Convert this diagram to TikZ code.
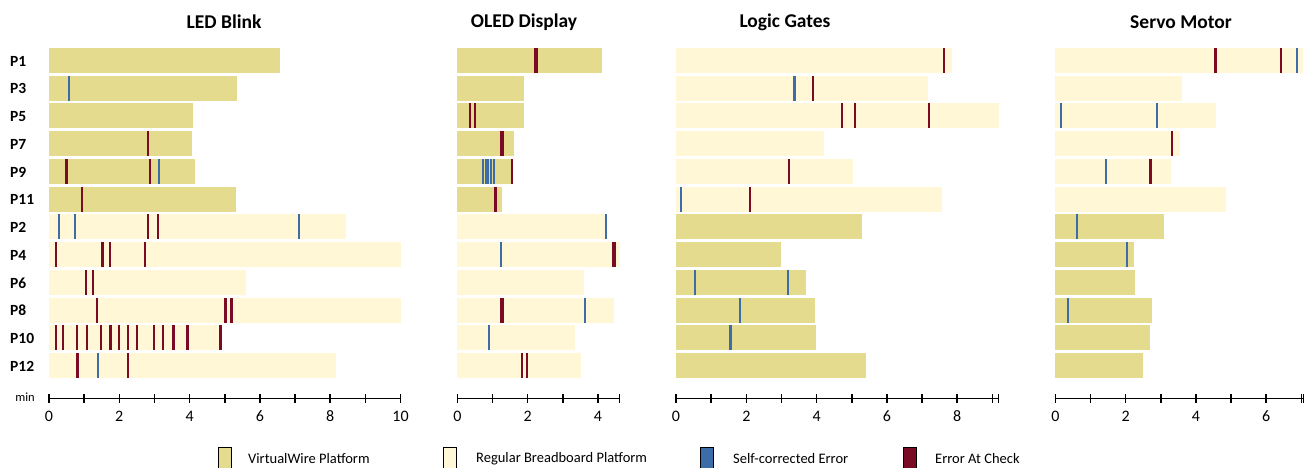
\documentclass[tikz,border=0pt]{standalone}
\usepackage{fontspec}
\setmainfont{Carlito}
\definecolor{vw}{HTML}{E4DB8E}
\definecolor{rb}{HTML}{FFF7D5}
\definecolor{sc}{HTML}{3C6DA8}
\definecolor{ec}{HTML}{7B0A24}
\newcommand{\rowbar}[4]{\fill[#4] (#1,{48+27.73*#2}) rectangle ({#1+35.15*#3},{73+27.73*#2});}
\newcommand{\rowmark}[5]{\fill[#4] ({#1+35.15*#3-#5/2},{48+27.73*#2}) rectangle ({#1+35.15*#3+#5/2},{73+27.73*#2});}
\newcommand{\paneaxis}[3]{%
  \draw[axisline] (#1,398.5) -- ({#1+35.15*#3},398.5);
  \foreach \k in {0,...,#2} {\draw[axisline] ({#1+35.15*\k},394) -- ++(0,9);}
  \draw[axisline] ({#1+35.15*#3},394) -- ++(0,9);}
\begin{document}
\begin{tikzpicture}[x=1pt,y=-1pt,
  title/.style={font=\fontsize{19.5}{22}\selectfont\bfseries, inner sep=0pt},
  plabel/.style={font=\fontsize{15.5}{18}\selectfont\bfseries, anchor=west, inner sep=0pt},
  ticklabel/.style={font=\fontsize{16}{18}\selectfont, inner sep=0pt},
  legtext/.style={font=\fontsize{14.5}{17}\selectfont, anchor=west, inner sep=0pt},
  legbox/.style={draw=black, line width=0.9pt, minimum width=13pt, minimum height=21pt, inner sep=0pt, anchor=north west},
  axisline/.style={line width=1.6pt, black}]
\useasboundingbox (0,0) rectangle (1307,467);
% titles
\node[title] (t1) at (224,22) {LED Blink};
\node[title] (t2) at (524,22) {OLED Display};
\node[title] (t3) at (785,22) {Logic Gates};
\node[title] (t4) at (1181,22) {Servo Motor};
% row labels
\foreach \lab [count=\i from 0] in {P1,P3,P5,P7,P9,P11,P2,P4,P6,P8,P10,P12}
  {\node[plabel] (row\i) at (10,{61+27.73*\i}) {\lab};}
% ---------- LED Blink ----------
\foreach \r/\e/\c in {0/6.56/vw,1/5.35/vw,2/4.11/vw,3/4.07/vw,4/4.16/vw,5/5.32/vw,
  6/8.45/rb,7/10.02/rb,8/5.60/rb,9/10.02/rb,10/4.92/rb,11/8.17/rb}
  {\rowbar{49}{\r}{\e}{\c}}
\foreach \r/\t/\c in {1/0.56/sc,3/2.82/ec,4/0.50/ec,4/2.88/ec,4/3.12/sc,5/0.95/ec,
  6/0.29/sc,6/0.74/sc,6/2.82/ec,6/3.10/ec,6/7.12/sc,
  7/0.20/ec,7/1.52/ec,7/1.73/ec,7/2.72/ec,8/1.05/ec,8/1.26/ec,
  9/1.36/ec,9/5.02/ec,9/5.19/ec,
  10/0.20/ec,10/0.39/ec,10/0.79/ec,10/1.07/ec,10/1.47/ec,10/1.75/ec,10/2.00/ec,
  10/2.25/ec,10/2.50/ec,10/2.98/ec,10/3.24/ec,10/3.54/ec,10/3.94/ec,10/4.88/ec,
  11/0.81/ec,11/1.39/sc,11/2.24/ec}
  {\rowmark{49}{\r}{\t}{\c}{2.2}}
\paneaxis{49}{10}{10}
\foreach \v in {0,2,4,6,8,10} {\node[ticklabel] (a1l\v) at ({49+35.15*\v},416) {\v};}
\node[font=\fontsize{12.5}{14}\selectfont, inner sep=0pt] (minlab) at (25,397) {min};
% ---------- OLED Display ----------
\foreach \r/\e/\c in {0/4.11/vw,1/1.91/vw,2/1.91/vw,3/1.62/vw,4/1.58/vw,5/1.26/vw,
  6/4.26/rb,7/4.62/rb,8/3.60/rb,9/4.45/rb,10/3.34/rb,11/3.52/rb}
  {\rowbar{457.3}{\r}{\e}{\c}}
\foreach \r/\t/\c/\w in {0/2.23/ec/4.2,2/0.37/ec/2.2,2/0.50/ec/2.2,3/1.28/ec/4,
  4/0.74/sc/2,4/0.81/sc/2,4/0.88/sc/2,4/0.95/sc/2,4/1.03/sc/2,4/1.55/ec/2.2,
  5/1.08/ec/3,6/4.23/sc/2.2,7/1.24/sc/2.2,7/4.46/ec/4.5,9/1.26/ec/4,9/3.64/sc/2.2,
  10/0.91/sc/2.2,11/1.83/ec/2.2,11/1.99/ec/2.2}
  {\rowmark{457.3}{\r}{\t}{\c}{\w}}
\paneaxis{457.3}{4}{4.61}
\foreach \v in {0,2,4} {\node[ticklabel] (a2l\v) at ({457.3+35.15*\v},416) {\v};}
% ---------- Logic Gates ----------
\foreach \r/\e/\c in {0/7.85/rb,1/7.18/rb,2/9.18/rb,3/4.22/rb,4/5.03/rb,5/7.58/rb,
  6/5.30/vw,7/2.98/vw,8/3.69/vw,9/3.95/vw,10/3.98/vw,11/5.40/vw}
  {\rowbar{676}{\r}{\e}{\c}}
\foreach \r/\t/\c in {0/7.62/ec,1/3.37/sc,1/3.90/ec,2/4.73/ec,2/5.09/ec,2/7.20/ec,
  4/3.21/ec,5/0.15/sc,5/2.10/ec,8/0.55/sc,8/3.18/sc,9/1.82/sc,10/1.55/sc}
  {\rowmark{676}{\r}{\t}{\c}{2.2}}
\paneaxis{676}{9}{9.17}
\foreach \v in {0,2,4,6,8} {\node[ticklabel] (a3l\v) at ({676+35.15*\v},416) {\v};}
% ---------- Servo Motor ----------
\foreach \r/\e/\c in {0/7.06/rb,1/3.60/rb,2/4.56/rb,3/3.56/rb,4/3.28/rb,5/4.85/rb,
  6/3.09/vw,7/2.23/vw,8/2.27/vw,9/2.74/vw,10/2.68/vw,11/2.49/vw}
  {\rowbar{1055.3}{\r}{\e}{\c}}
\foreach \r/\t/\c in {0/4.56/ec,0/6.41/ec,0/6.88/sc,2/0.16/sc,2/2.90/sc,3/3.31/ec,
  4/1.45/sc,4/2.71/ec,6/0.61/sc,7/2.03/sc,9/0.36/sc}
  {\rowmark{1055.3}{\r}{\t}{\c}{2.2}}
\paneaxis{1055.3}{7}{7.06}
\foreach \v in {0,2,4,6} {\node[ticklabel] (a4l\v) at ({1055.3+35.15*\v},416) {\v};}
% ---------- legend ----------
\node[legbox, fill=vw] (k1) at (218,447) {};
\node[legtext] (k1t) at (248,459) {VirtualWire Platform};
\node[legbox, fill=rb] (k2) at (443,447) {};
\node[legtext] (k2t) at (476,459) {Regular Breadboard Platform};
\node[legbox, fill=sc] (k3) at (700,447) {};
\node[legtext] (k3t) at (733,459) {Self-corrected Error};
\node[legbox, fill=ec] (k4) at (903,447) {};
\node[legtext] (k4t) at (935,459) {Error At Check};
\end{tikzpicture}
\end{document}
